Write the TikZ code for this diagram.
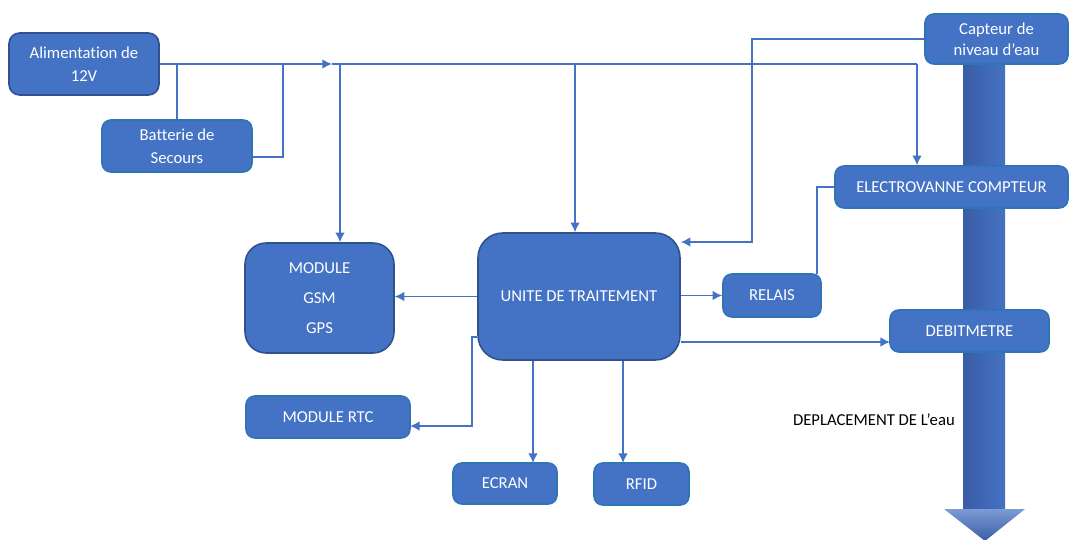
\documentclass[tikz,border=0pt]{standalone}
\usepackage{fontspec}
\setmainfont{Carlito}[Ligatures=NoCommon]
\usetikzlibrary{arrows.meta}
\definecolor{boxblue}{HTML}{4472C4}
\definecolor{edgedark}{HTML}{2F528F}
\definecolor{edgelight}{HTML}{2E75B6}
\definecolor{shaftdark}{HTML}{3A5CA3}
\tikzset{
    box/.style={draw=edgelight, fill=boxblue, line width=0.9pt, rounded corners=5pt,
        text=white, align=center, inner sep=0pt, font=\fontsize{9.5}{12}\selectfont},
    bigbox/.style={box, draw=edgedark},
    wire/.style={draw=boxblue, line width=0.9pt},
    arr/.style={wire, -{Latex[length=5.5pt,width=5.5pt]}}
}
\begin{document}
\begin{tikzpicture}[x=0.02cm, y=-0.02cm]
    \useasboundingbox (0,0) rectangle (1070,540);

    % Fleche de l'eau
    \shade[left color=shaftdark, right color=boxblue] (963,60) rectangle (1005,511);
    \shade[top color=boxblue!70!white, bottom color=shaftdark] (944,509) -- (1025,509) -- (985,541) -- cycle;
    \node[anchor=east, font=\fontsize{9.5}{12}\selectfont] (eau) at (961,420) {DEPLACEMENT DE L’eau};

    % Blocs
    \node[bigbox, rounded corners=6pt, minimum width=3cm, minimum height=1.24cm] (alim) at (84,64) {Alimentation de\\[1pt]12V};
    \node[box, minimum width=3cm, minimum height=1.04cm] (bat) at (177,146) {Batterie de\\[1pt]Secours};
    \node[box, minimum width=2.86cm, minimum height=1cm] (capt) at (996.5,39) {Capteur de\\niveau d’eau};
    \node[box, minimum width=4.66cm, minimum height=0.84cm] (ev) at (951.5,187) {ELECTROVANNE COMPTEUR};
    \node[bigbox, rounded corners=12pt, minimum width=2.98cm, minimum height=2.2cm] (gsm) at (319.5,298) {MODULE\\[5pt]GSM\\[5pt]GPS};
    \node[bigbox, rounded corners=14pt, minimum width=4.04cm, minimum height=2.54cm] (ut) at (579,296.5) {UNITE DE TRAITEMENT};
    \node[box, minimum width=1.96cm, minimum height=0.86cm] (relais) at (772,295.5) {RELAIS};
    \node[box, minimum width=3.18cm, minimum height=0.84cm] (debit) at (969.5,331) {DEBITMETRE};
    \node[box, minimum width=3.28cm, minimum height=0.84cm] (rtc) at (328,417) {MODULE RTC};
    \node[box, minimum width=2.08cm, minimum height=0.82cm] (ecran) at (505,483.5) {ECRAN};
    \node[box, minimum width=1.9cm, minimum height=0.84cm] (rfid) at (641.5,484) {RFID};

    % Points de passage
    \coordinate (kmid) at (332,64);
    \coordinate (kev) at (917,64);
    \coordinate (kbat) at (283,157);
    \coordinate (kgsm) at (340,64);
    \coordinate (kut) at (575,64);
    \coordinate (kcap) at (752,242);
    \coordinate (krel) at (817,274);
    \coordinate (kdeb) at (890,342);
    \coordinate (krtc) at (472,337);
    \coordinate (krtc2) at (410,426);
    \coordinate (kecr) at (533,463);
    \coordinate (krf) at (623,463);

    % Alimentation
    \draw[arr] (alim.east) -- (kmid);
    \draw[wire] (kmid) -- (kev);
    \draw[arr] (kev) -- (kev |- ev.north);
    \draw[wire] (alim.east -| bat.north) -- (bat.north);
    \draw[wire] (kbat -| bat.east) -- (kbat) -- (kbat |- alim.east);
    \draw[arr] (kgsm) -- (kgsm |- gsm.north);
    \draw[arr] (kut) -- (kut |- ut.north);

    % Capteurs et actionneurs
    \draw[arr] (capt.west) -| (kcap) -- (kcap -| ut.east);
    \draw[wire] (ev.west) -| (krel);
    \draw[arr] (ut.east |- relais.west) -- (relais.west);
    \draw[arr] (ut.east |- kdeb) -- (kdeb);

    % Sorties de l'unite
    \draw[arr] (ut.west) -- (ut.west -| gsm.east);
    \draw[arr] (krtc -| ut.west) -- (krtc) |- (krtc2);
    \draw[arr] (kecr |- ut.south) -- (kecr);
    \draw[arr] (krf |- ut.south) -- (krf);
\end{tikzpicture}
\end{document}
